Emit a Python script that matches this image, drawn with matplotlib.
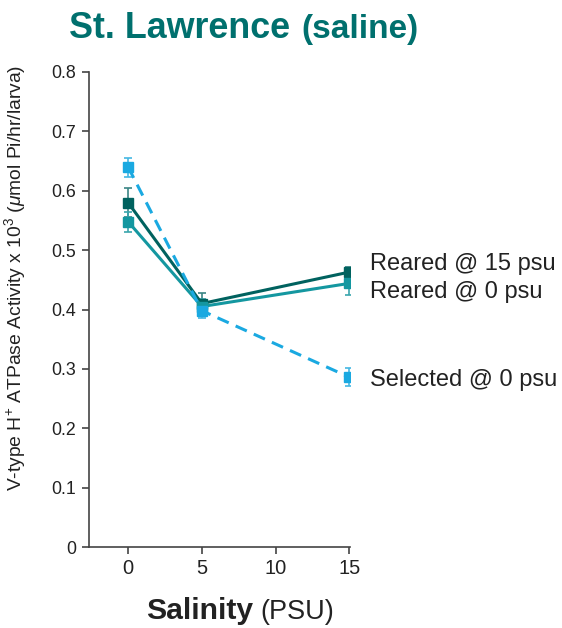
import matplotlib
matplotlib.use("Agg")
import matplotlib.pyplot as plt

plt.rcParams['font.family'] = ['Liberation Sans', 'DejaVu Sans']
plt.rcParams['mathtext.fontset'] = 'custom'
plt.rcParams['mathtext.rm'] = 'Liberation Sans'
plt.rcParams['mathtext.it'] = 'Liberation Sans:italic'
plt.rcParams['mathtext.bf'] = 'Liberation Sans:bold'

salinity = [0, 5, 15]
series_names = ["Reared @ 15 psu", "Reared @ 0 psu", "Selected @ 0 psu"]
reared15 = [0.580, 0.410, 0.463]
reared15_err = [0.025, 0.017, 0.008]
reared0 = [0.548, 0.405, 0.444]
reared0_err = [0.017, 0.012, 0.020]
selected0 = [0.640, 0.398, 0.286]
selected0_err = [0.016, 0.012, 0.015]
label_y = [0.477, 0.430, 0.281]

colors = ["#00625f", "#1497a0", "#1aa9e1"]
err_colors = ["#3b8585", "#3aa5ad", "#45b7e3"]
styles = ["-", "-", "--"]

fig = plt.figure(figsize=(5.62, 6.28), dpi=100)
ax = fig.add_axes([0.1589, 1 - 547 / 628, 0.4639, (547 - 72) / 628])

data = [(reared15, reared15_err), (reared0, reared0_err), (selected0, selected0_err)]
order = [2, 1, 0]
for i in order:
    y, e = data[i]
    ax.errorbar(salinity, y, yerr=e, fmt='none', ecolor=err_colors[i],
                elinewidth=1.2, capsize=3, capthick=1.2, zorder=2 + i)
    ax.plot(salinity, y, linestyle=styles[i], color=colors[i], lw=2.2,
            marker='s', markersize=6.5, zorder=3 + i,
            dashes=(4, 2.5) if styles[i] == '--' else (None, None))

for name, ly in zip(series_names, label_y):
    ax.text(16.4, ly, name, fontsize=17, color="#222222", va='center', ha='left',
            clip_on=False)

ax.set_xlim(-2.63, 15.05)
ax.set_ylim(0, 0.8)
ax.set_xticks([0, 5, 10, 15])
ax.set_yticks([0, 0.1, 0.2, 0.3, 0.4, 0.5, 0.6, 0.7, 0.8])
ax.set_yticklabels(["0", "0.1", "0.2", "0.3", "0.4", "0.5", "0.6", "0.7", "0.8"])
for s in ['top', 'right']:
    ax.spines[s].set_visible(False)
for s in ['left', 'bottom']:
    ax.spines[s].set_color('#444444')
    ax.spines[s].set_linewidth(1.2)
ax.tick_params(axis='both', direction='out', length=5, width=1.2, color='#444444',
               labelcolor='#222222')
ax.tick_params(axis='y', labelsize=12.8, pad=4.5)
ax.tick_params(axis='x', labelsize=14.5, pad=4)

fig.text(15 / 562, 1 - 278 / 628,
         r'V-type H$^{+}$ ATPase Activity x 10$^{3}$ ($\mathit{\mu}$mol Pi/hr/larva)',
         fontsize=13.9, color='#222222', rotation=90, ha='center', va='center')

# Title
fig.text(69 / 562, 1 - 38 / 628, "St. Lawrence", fontsize=25.8, fontweight='bold',
         color='#00706e', ha='left', va='baseline')
fig.text(301 / 562, 1 - 38 / 628, "(saline)", fontsize=24, fontweight='bold',
         color='#00706e', ha='left', va='baseline')

# X label
fig.text(146 / 562, 1 - 619 / 628, "Salinity", fontsize=21.7, fontweight='bold',
         color='#222222', ha='left', va='baseline')
fig.text(260 / 562, 1 - 619 / 628, "(PSU)", fontsize=19.5,
         color='#222222', ha='left', va='baseline')

fig.savefig("out.png", dpi=100)
